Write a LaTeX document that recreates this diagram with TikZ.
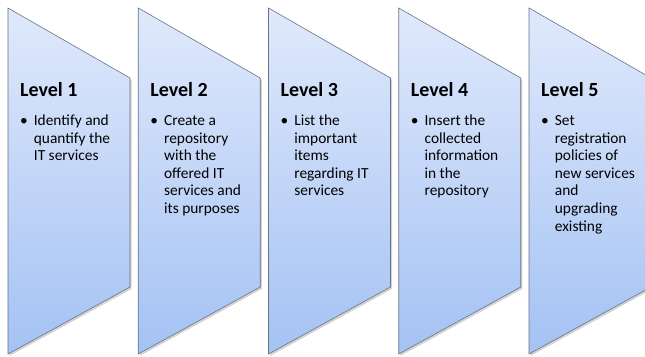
\documentclass[tikz,border=0pt]{standalone}
\usepackage{fontspec}
\setmainfont{Carlito}
\usetikzlibrary{positioning,shadows}
\definecolor{paneltop}{RGB}{224,233,251}
\definecolor{panelbot}{RGB}{164,194,244}
\definecolor{paneledge}{RGB}{105,115,130}
\newcommand{\bulletlist}[1]{\begin{tabular}{@{}l@{\hspace{6pt}}l@{}}\textbullet & #1\end{tabular}}

\begin{document}
\begin{tikzpicture}
  [x=1pt,y=-1pt,
   panel/.style={draw=paneledge,line width=0.6pt,top color=paneltop,bottom color=panelbot,
     drop shadow={opacity=0.35,shadow xshift=1.5pt,shadow yshift=-2pt}},
   level/.style={font=\fontsize{20}{24}\selectfont\bfseries,inner sep=0pt,anchor=base west},
   items/.style={font=\fontsize{15.4}{17.6}\selectfont,inner sep=0pt,align=left}]
  \clip (0,0) rectangle (645,356);
  % the five level panels
  \foreach \i/\x in {1/8,2/138.25,3/268.5,4/398.75,5/529} {
    \path[panel] (\x,8) -- ++(122,70) -- ++(0,209) -- ++(-122,67) -- cycle;
    \node[level] (t\i) at (\x+12,96) {Level \i};
  }
  % what each level does
  \node[items,below right=17pt and 0pt of t1.base west] (d1)
    {\bulletlist{Identify and\\ & quantify the\\ & IT services}};
  \node[items,below right=17pt and 0pt of t2.base west] (d2)
    {\bulletlist{Create a\\ & repository\\ & with the\\ & offered IT\\ & services and\\ & its purposes}};
  \node[items,below right=17pt and 0pt of t3.base west] (d3)
    {\bulletlist{List the\\ & important\\ & items\\ & regarding IT\\ & services}};
  \node[items,below right=17pt and 0pt of t4.base west] (d4)
    {\bulletlist{Insert the\\ & collected\\ & information\\ & in the\\ & repository}};
  \node[items,below right=17pt and 0pt of t5.base west] (d5)
    {\bulletlist{Set\\ & registration\\ & policies of\\ & new services\\ & and\\ & upgrading\\ & existing}};
\end{tikzpicture}
\end{document}
